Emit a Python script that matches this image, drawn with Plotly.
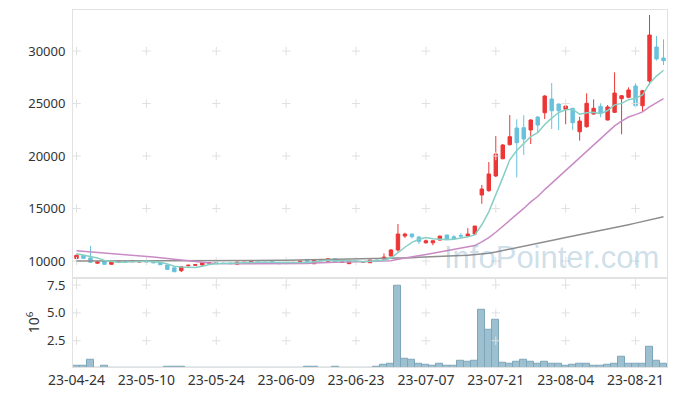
import pandas as pd
import plotly.graph_objects as go
from plotly.subplots import make_subplots

# ---------------- data ----------------
holidays = ["2023-05-01", "2023-05-05", "2023-05-29", "2023-06-06", "2023-08-15"]
days = [d for d in pd.bdate_range("2023-04-24", "2023-08-25")
        if d.strftime("%Y-%m-%d") not in holidays]
dates = [d.strftime("%y-%m-%d") for d in days]

opens = [10250, 10540, 10300, 9800, 10000, 9690, 9900, 9980, 9930, 9900,
         10030, 9950, 9870, 9620, 9360, 9080, 9550, 9600, 9620, 9800,
         9860, 9800, 9810, 9700, 9800, 9830, 9900, 9880, 9960, 9880,
         9820, 9830, 9840, 10160, 9740, 10080, 9970, 10220, 9870, 9750,
         9950, 9900, 9840, 10100, 10190, 10480, 11050, 12380, 12570, 12280,
         11740, 11740, 12000, 12480, 12310, 12420, 12380, 12570, 16290, 16700,
         18100, 19740, 21080, 22670, 22700, 22480, 23710, 24120, 25430, 24950,
         24440, 24540, 22310, 22790, 24000, 24730, 23430, 24160, 25460, 25590,
         26670, 24790, 27140, 30380, 29330]
highs = [10600, 10600, 11430, 9980, 10020, 10020, 10020, 10000, 10080, 10060,
         10050, 9980, 9880, 9650, 9370, 9480, 9640, 9720, 9880, 9860,
         9880, 9830, 9830, 9920, 9900, 10000, 9930, 9900, 9980, 9900,
         9890, 9900, 10020, 10180, 10150, 10200, 10240, 10240, 9950, 10020,
         10000, 10000, 10120, 10130, 10730, 11150, 13520, 12700, 12600, 12400,
         12050, 11950, 12400, 12500, 12450, 12650, 13140, 13350, 17250, 19430,
         21900, 21150, 23900, 23500, 23880, 23500, 23800, 25800, 26950, 25000,
         24800, 24600, 23740, 25970, 25400, 25020, 24860, 27970, 25800, 26540,
         26920, 26300, 33430, 31430, 31110]
lows = [10150, 10200, 9850, 9750, 9650, 9680, 9880, 9860, 9920, 9890,
        9880, 9800, 9620, 9150, 8970, 8950, 9520, 9560, 9600, 9780,
        9740, 9760, 9720, 9690, 9780, 9810, 9860, 9850, 9830, 9720,
        9800, 9810, 9820, 9820, 9720, 10050, 9950, 9850, 9850, 9730,
        9930, 9850, 9820, 9980, 10150, 10450, 10900, 12200, 12150, 11600,
        11650, 11500, 11950, 12000, 12000, 12200, 12300, 12500, 15450, 16600,
        18000, 19700, 21000, 17970, 20100, 21140, 22220, 23520, 22570, 22480,
        23020, 22480, 21460, 22700, 23950, 23690, 23400, 24100, 22070, 25500,
        24700, 24220, 26760, 29100, 28670]
closes = [10550, 10260, 9880, 9930, 9690, 9990, 9980, 9900, 10050, 10030,
          9900, 9830, 9650, 9200, 8980, 9460, 9600, 9650, 9860, 9830,
          9760, 9780, 9750, 9900, 9880, 9980, 9880, 9870, 9850, 9740,
          9860, 9870, 10000, 9840, 10120, 10150, 10220, 9870, 9920, 10000,
          9980, 9930, 10100, 10000, 10380, 11050, 12570, 12570, 12320, 11870,
          11930, 11930, 12380, 12070, 12120, 12380, 12570, 13330, 16860, 18290,
          20190, 21050, 21840, 21270, 21620, 23430, 22950, 25710, 24310, 24310,
          24760, 23170, 23330, 25020, 24540, 24120, 24670, 26000, 25740, 26290,
          24790, 26220, 31520, 29240, 29080]

# volume, in millions of shares
volume = [0.22, 0.22, 0.83, 0.10, 0.22, 0.10, 0.09, 0.08, 0.10, 0.09,
          0.08, 0.09, 0.11, 0.20, 0.20, 0.12, 0.10, 0.09, 0.08, 0.07,
          0.08, 0.07, 0.08, 0.09, 0.07, 0.08, 0.07, 0.06, 0.08, 0.07,
          0.08, 0.09, 0.10, 0.12, 0.20, 0.10, 0.11, 0.12, 0.09, 0.10,
          0.08, 0.09, 0.11, 0.12, 0.38, 0.47, 7.42, 0.92, 0.83, 0.47,
          0.38, 0.29, 0.47, 0.29, 0.29, 0.74, 0.65, 0.74, 5.32, 3.52,
          4.42, 0.56, 0.47, 0.58, 0.83, 0.58, 0.47, 0.58, 0.47, 0.40,
          0.22, 0.31, 0.47, 0.47, 0.22, 0.22, 0.31, 0.47, 1.03, 0.40,
          0.47, 0.40, 1.93, 0.67, 0.47]

# moving-average values before enough history is inside the window
ma5_head = [10700, 10580, 10450, 10300]
ma20_head = [10980, 10930, 10880, 10830, 10780, 10720, 10670, 10620, 10570, 10510,
             10450, 10380, 10310, 10240, 10140, 10040, 9960, 9900, 9860]
ma120 = [10000, 10000, 10000, 10000, 10000, 10000, 10000, 10000, 10000, 10000,
         10000, 10000, 10000, 10000, 10000, 10000, 10000, 10010, 10010, 10020,
         10020, 10030, 10030, 10040, 10040, 10050, 10050, 10060, 10060, 10070,
         10080, 10090, 10100, 10110, 10120, 10130, 10140, 10150, 10160, 10170,
         10180, 10190, 10200, 10210, 10220, 10240, 10260, 10290, 10320, 10360,
         10400, 10420, 10440, 10470, 10500, 10530, 10560, 10600, 10650, 10740,
         10860, 10990, 11120, 11260, 11400, 11540, 11680, 11820, 11960, 12100,
         12250, 12380, 12500, 12630, 12750, 12870, 13000, 13150, 13300, 13460,
         13610, 13760, 13920, 14070, 14220]

price_ticks = [10000, 15000, 20000, 25000, 30000]
vol_ticks = [2.5, 5.0, 7.5]
vol_tick_text = ["2.5", "5.0", "7.5"]
date_ticks = dates[::10]

close_s = pd.Series(closes)
ma5 = ma5_head + close_s.rolling(5).mean().tolist()[len(ma5_head):]
ma20 = ma20_head + close_s.rolling(20).mean().tolist()[len(ma20_head):]

# ---------------- styles ----------------
RED = "#ee3535"
BLUE = "#68c2dc"
FRAME = "#e2e2e2"
GRIDMARK = "#e0e0e0"
FONT = "Noto Sans"
TXT = "#333333"

fig = make_subplots(rows=2, cols=1, shared_xaxes=True, vertical_spacing=0,
                    row_heights=[0.75, 0.25])

# volume first (fixes category order)
fig.add_trace(go.Bar(x=dates, y=volume, marker=dict(color="#9dc0d1",
                                                    line=dict(color="#7ea6ba", width=1)),
                     showlegend=False), row=2, col=1)

# grid crosses
gx, gy = [], []
for d in date_ticks:
    for p in price_ticks:
        gx.append(d); gy.append(p)
fig.add_trace(go.Scatter(x=gx, y=gy, mode="markers", hoverinfo="skip",
                         marker=dict(symbol="cross-thin", size=6,
                                     line=dict(color=GRIDMARK, width=1)),
                         showlegend=False), row=1, col=1)
vx, vy = [], []
for d in date_ticks:
    for v in vol_ticks:
        vx.append(d); vy.append(v)
fig.add_trace(go.Scatter(x=vx, y=vy, mode="markers", hoverinfo="skip",
                         marker=dict(symbol="cross-thin", size=6,
                                     line=dict(color=GRIDMARK, width=1)),
                         showlegend=False), row=2, col=1)

# moving averages
fig.add_trace(go.Scatter(x=dates, y=ma120, mode="lines",
                         line=dict(color="#8e8e8e", width=1.5), showlegend=False),
              row=1, col=1)
fig.add_trace(go.Scatter(x=dates, y=ma20, mode="lines",
                         line=dict(color="#c98bc5", width=1.5), showlegend=False),
              row=1, col=1)
fig.add_trace(go.Scatter(x=dates, y=ma5, mode="lines",
                         line=dict(color="#86cfc5", width=1.5), showlegend=False),
              row=1, col=1)

# candles
fig.add_trace(go.Candlestick(x=dates, open=opens, high=highs, low=lows, close=closes,
                             increasing=dict(line=dict(color=RED, width=1), fillcolor=RED),
                             decreasing=dict(line=dict(color=BLUE, width=1), fillcolor=BLUE),
                             whiskerwidth=0, showlegend=False),
              row=1, col=1)

# the page body adds an 8px offset, so the figure is sized to fit the window
fig.update_layout(
    width=669, height=388,
    margin=dict(l=65, r=10, t=2, b=29, autoexpand=False),
    paper_bgcolor="white", plot_bgcolor="white",
    font=dict(family=FONT, size=13, color=TXT),
    bargap=0, boxgap=0.3,
    showlegend=False,
    annotations=[dict(text="InfoPointer.com", xref="paper", yref="paper",
                      x=0.99, y=0.253, xanchor="right", yanchor="bottom",
                      showarrow=False,
                      font=dict(family="Liberation Sans", size=31,
                                color="rgba(90,145,180,0.30)"))],
)

common_x = dict(type="category", categoryorder="array", categoryarray=dates,
                range=[-0.5, len(dates) - 0.5], showgrid=False, automargin=False,
                zeroline=False, showline=True, mirror=True, linecolor=FRAME,
                linewidth=1, tickvals=date_ticks, ticktext=date_ticks, tickangle=0,
                rangeslider=dict(visible=False))
fig.update_xaxes(**common_x)
fig.update_xaxes(showticklabels=False, ticks="outside", ticklen=3, tickcolor=FRAME,
                 row=1, col=1)
fig.update_xaxes(ticks="", tickfont=dict(size=14, color=TXT), row=2, col=1)

fig.update_yaxes(range=[8410, 33905], tickvals=price_ticks,
                 ticktext=[str(t) for t in price_ticks], automargin=False,
                 showgrid=False, zeroline=False, showline=True, mirror=True,
                 linecolor=FRAME, ticks="outside", ticklen=4,
                 tickcolor="rgba(0,0,0,0)", tickfont=dict(size=13, color=TXT),
                 row=1, col=1)
fig.update_yaxes(range=[0.14, 8.155], tickvals=vol_ticks, ticktext=vol_tick_text,
                 showgrid=False, zeroline=False, showline=True, mirror=True,
                 automargin=False,
                 linecolor=FRAME, ticks="outside", ticklen=4,
                 tickcolor="rgba(0,0,0,0)", tickfont=dict(size=13, color=TXT),
                 title=dict(text="10<sup>6</sup>", standoff=4,
                            font=dict(size=14, color=TXT)),
                 row=2, col=1)

fig.write_html("out.html")
